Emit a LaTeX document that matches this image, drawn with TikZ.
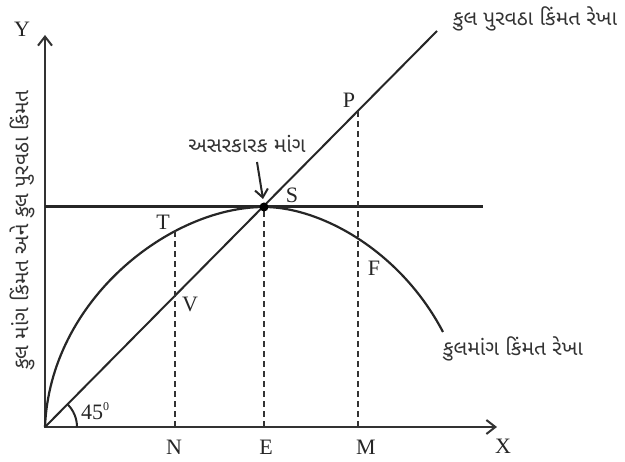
\documentclass[tikz,border=0pt]{standalone}
\usepackage{fontspec}
\setmainfont{Liberation Serif}
\newfontfamily\guj[Script=Gujarati]{Noto Sans Gujarati UI}
\usetikzlibrary{arrows.meta, positioning}
\tikzset{
    barb/.tip={Straight Barb[length=9pt, width=14pt, line width=2pt]},
    axis/.style={line width=2pt, draw=black!80, barb-barb},
    supply/.style={line width=2pt, draw=black!85},
    demand/.style={line width=2.2pt, draw=black!85},
    level/.style={line width=3pt, draw=black!85},
    guide/.style={line width=2.4pt, draw=black!80, dash pattern=on 6pt off 4pt},
    pointer/.style={line width=2pt, draw=black!85, -{Straight Barb[length=8pt, width=13pt, line width=2pt]}},
    letter/.style={font=\fontsize{22}{24}\selectfont, text=black!85, inner sep=0pt},
    gujtext/.style={font=\guj\fontsize{21}{24}\selectfont, text=black!80, inner sep=0pt}
}

\begin{document}
\begin{tikzpicture}[x=1pt, y=-1pt]
    \useasboundingbox (0,0) rectangle (625,462);
    % points of the diagram
    \coordinate (O) at (45,427);
    \coordinate (Ytop) at (45,35);
    \coordinate (Xend) at (497,427);
    \coordinate (Hstart) at (45,207);
    \coordinate (Hend) at (483,207);
    \coordinate (Dend) at (437,31);
    \coordinate (S) at (264,207);
    \coordinate (T) at (175,231);
    \coordinate (Cend) at (443,332);
    \coordinate (N) at (175,427);
    \coordinate (E) at (264,427);
    \coordinate (M) at (358,427);
    \coordinate (P) at (358,111);
    \coordinate (ptr) at (257,162);
    \coordinate (ptrend) at (263,199);

    \draw [axis] (Ytop) -- (O) -- (Xend);
    \draw [level] (Hstart) -- (Hend);
    \draw [supply] (O) -- (Dend);
    \draw [demand] (O) .. controls (50,300) and (170,207) .. (S)
        .. controls (320,207) and (400,250) .. (Cend);

    \draw [guide] (N) -- (T);
    \draw [guide] (E) -- (S);
    \draw [guide] (M) -- (P);

    \draw [line width=2pt, draw=black!85] ([shift={(0:32pt)}]O) arc[start angle=0, end angle=45, radius=32pt];
    \fill [black] (S) circle[radius=4.5pt];

    % labels
    \node (labY) [letter] at (22,29) {Y};
    \node (labX) [letter] at (503,446) {X};
    \node (labN) [letter] at (174,447) {N};
    \node (labE) [letter] at (266,447) {E};
    \node (labM) [letter] at (366,447) {M};
    \node (labP) [letter] at (349,100) {P};
    \node (labS) [letter] at (292,195) {S};
    \node (labT) [letter] at (163,222) {T};
    \node (labV) [letter] at (190,304) {V};
    \node (labF) [letter] at (374,268) {F};
    \node (labAngle) [letter, anchor=west] at (81,411) {45\raisebox{9pt}{\fontsize{12}{12}\selectfont 0}};

    \node (effective) [gujtext] at (247,144) {અસરકારક માંગ};
    \draw [pointer] (ptr) -- (ptrend);
    \node (supplyline) [gujtext] at (535,19) {કુલ પુરવઠા કિંમત રેખા};
    \node (demandline) [gujtext] at (513,349) {કુલમાંગ કિંમત રેખા};
    \node (ylabel) [gujtext, rotate=90] at (22,230) {કુલ માંગ કિંમત અને કુલ પુરવઠા કિંમત};
\end{tikzpicture}
\end{document}
